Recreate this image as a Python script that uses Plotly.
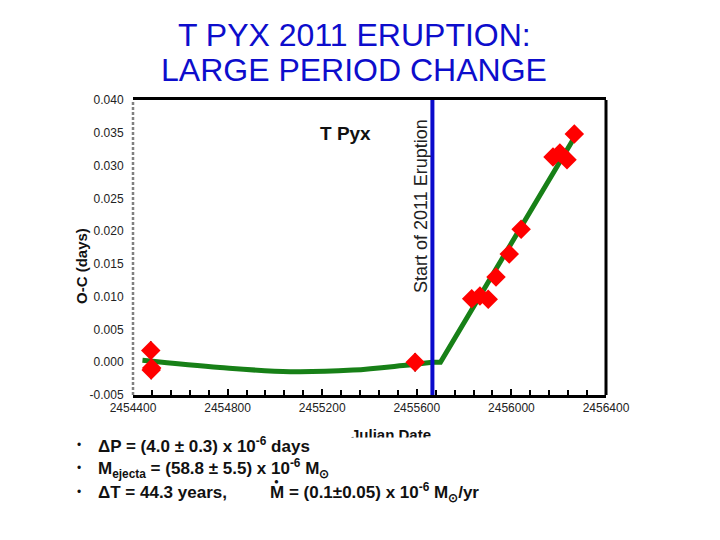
import plotly.graph_objects as go

# ---------------- data ----------------
obs_jd = [2454475, 2454477, 2454479, 2455593, 2455832, 2455867, 2455902,
          2455935, 2455991, 2456041, 2456176, 2456205, 2456235, 2456266]
obs_oc = [0.0018, -0.0012, -0.0009, 0.0000, 0.0097, 0.0101, 0.0096,
          0.0130, 0.0165, 0.0203, 0.0313, 0.0319, 0.0309, 0.0348]
obs_err = [0.0014, 0.0014, 0.0014, 0.0014, 0.0010, 0.0010, 0.0010,
           0.0010, 0.0010, 0.0010, 0.0010, 0.0010, 0.0010, 0.0010]

# pre-eruption (parabolic) part of the fit
fit_pre_jd = [2454440, 2454768, 2455064, 2455330, 2455542, 2455666]
fit_pre_oc = [0.0003, -0.0008, -0.00145, -0.0012, -0.0005, 0.0000]
# post-eruption (linear) part of the fit
fit_post_jd = [2455666, 2455700, 2456270]
fit_post_oc = [0.0000, 0.0000, 0.0345]

eruption_jd = 2455666

x_tickvals = [2454400, 2454800, 2455200, 2455600, 2456000, 2456400]
x_ticktext = ["2454400", "2454800", "2455200", "2455600", "2456000", "2456400"]
y_tickvals = [-0.005, 0.000, 0.005, 0.010, 0.015, 0.020, 0.025, 0.030, 0.035, 0.040]
y_ticktext = ["-0.005", "0.000", "0.005", "0.010", "0.015", "0.020", "0.025",
              "0.030", "0.035", "0.040"]

# ---------------- layout helpers ----------------
L, R, T, B = 133, 606, 100, 395
def px(xp):
    return (xp - L) / (R - L)
def py(yp):
    return (B - yp) / (B - T)

FONT = "Liberation Sans, Arial, sans-serif"

fig = go.Figure()

fig.add_trace(go.Scatter(
    x=fit_pre_jd, y=fit_pre_oc, mode="lines",
    line=dict(color="#178017", width=5, shape="spline", smoothing=1.0),
    hoverinfo="skip", showlegend=False))
fig.add_trace(go.Scatter(
    x=fit_post_jd, y=fit_post_oc, mode="lines",
    line=dict(color="#178017", width=5),
    hoverinfo="skip", showlegend=False))

fig.add_trace(go.Scatter(
    x=[eruption_jd, eruption_jd], y=[-0.005, 0.040], mode="lines",
    line=dict(color="#0a0acc", width=4),
    hoverinfo="skip", showlegend=False))

fig.add_trace(go.Scatter(
    x=obs_jd, y=obs_oc, mode="markers",
    marker=dict(symbol="diamond", size=15, color="#ff0000",
                line=dict(width=0)),
    error_y=dict(type="data", array=obs_err, color="black",
                 thickness=1.5, width=0),
    showlegend=False))

shapes = [
    dict(type="line", xref="paper", yref="paper", x0=1, x1=1, y0=0, y1=1,
         line=dict(color="black", width=3)),
    dict(type="line", xref="paper", yref="paper", x0=0, x1=0, y0=0, y1=1,
         line=dict(color="#808080", width=2.5, dash="3px,2px")),
]

annotations = [
    dict(text="T PYX 2011 ERUPTION:", x=px(354), y=py(35), xref="paper", yref="paper",
         showarrow=False, font=dict(family=FONT, size=32, color="#0d0dcc"),
         xanchor="center", yanchor="middle"),
    dict(text="LARGE PERIOD CHANGE", x=px(354), y=py(70), xref="paper", yref="paper",
         showarrow=False, font=dict(family=FONT, size=32, color="#0d0dcc"),
         xanchor="center", yanchor="middle"),
    dict(text="<b>T Pyx</b>", x=px(345), y=py(133), xref="paper", yref="paper",
         showarrow=False, font=dict(family=FONT, size=19, color="#111111"),
         xanchor="center", yanchor="middle"),
    dict(text="Start of 2011 Eruption", x=px(421), y=py(206), xref="paper", yref="paper",
         showarrow=False, textangle=-90,
         font=dict(family=FONT, size=18, color="#222222"),
         xanchor="center", yanchor="middle"),
    dict(text="<b>O-C (days)</b>", x=px(81), y=py(266), xref="paper", yref="paper",
         showarrow=False, textangle=-90,
         font=dict(family=FONT, size=15, color="#111111"),
         xanchor="center", yanchor="middle"),
    dict(text="<b>Julian Date</b>", x=px(391), y=py(434), xref="paper", yref="paper",
         showarrow=False, font=dict(family=FONT, size=15, color="#111111"),
         xanchor="center", yanchor="middle"),
    # white box clipping the lower part of the axis title
    dict(text=" ", x=px(60), y=py(437), xref="paper", yref="paper",
         showarrow=False, bgcolor="white", width=560, height=100,
         xanchor="left", yanchor="top", font=dict(size=10)),
]

bfont = dict(family=FONT, size=17, color="#111111")
for yline in (445, 468, 492):
    annotations.append(dict(text="•", x=px(79), y=py(yline), xref="paper", yref="paper",
                            showarrow=False, font=dict(family=FONT, size=12, color="#111111"),
                            xanchor="center", yanchor="middle"))
annotations += [
    dict(text="<b>ΔP = (4.0 ± 0.3) x 10<sup>-6</sup> days</b>", x=px(96), y=py(445),
         xref="paper", yref="paper", showarrow=False, font=bfont,
         xanchor="left", yanchor="middle"),
    dict(text="<b>M<sub>ejecta</sub> = (58.8 ± 5.5) x 10<sup>-6</sup> M<sub>⊙</sub></b>",
         x=px(96), y=py(468), xref="paper", yref="paper", showarrow=False, font=bfont,
         xanchor="left", yanchor="middle"),
    dict(text="<b>ΔT = 44.3 years,</b>", x=px(96), y=py(492),
         xref="paper", yref="paper", showarrow=False, font=bfont,
         xanchor="left", yanchor="middle"),
    dict(text="<b>M = (0.1±0.05) x 10<sup>-6</sup> M<sub>⊙</sub>/yr</b>", x=px(268), y=py(492),
         xref="paper", yref="paper", showarrow=False, font=bfont,
         xanchor="left", yanchor="middle"),
    dict(text="●", x=px(276), y=py(481), xref="paper", yref="paper",
         showarrow=False, font=dict(family=FONT, size=8, color="#111111"),
         xanchor="center", yanchor="middle"),
]

fig.update_layout(
    width=720, height=540,
    margin=dict(l=L, r=720 - R, t=T, b=540 - B),
    paper_bgcolor="white", plot_bgcolor="white",
    showlegend=False,
    font=dict(family=FONT, size=12, color="#222222"),
    shapes=shapes,
    annotations=annotations,
    xaxis=dict(range=[2454400, 2456400], tickvals=x_tickvals, ticktext=x_ticktext,
               showgrid=False, zeroline=False, showline=True, linecolor="black",
               linewidth=3, mirror=True, ticks="inside", ticklen=6, tickwidth=2,
               tickcolor="black",
               minor=dict(dtick=80, tick0=2454400, ticks="inside", ticklen=5,
                          tickwidth=2, tickcolor="black"),
               tickfont=dict(family=FONT, size=12, color="#222222")),
    yaxis=dict(range=[-0.005, 0.040], tickvals=y_tickvals, ticktext=y_ticktext,
               showgrid=False, zeroline=False, showline=False,
               ticks="outside", ticklen=6, tickwidth=1, tickcolor="rgba(0,0,0,0)",
               tickfont=dict(family=FONT, size=12, color="#222222")),
)

fig.write_html("out.html", config={"displayModeBar": False},
               post_script="document.body.style.margin='0';")
